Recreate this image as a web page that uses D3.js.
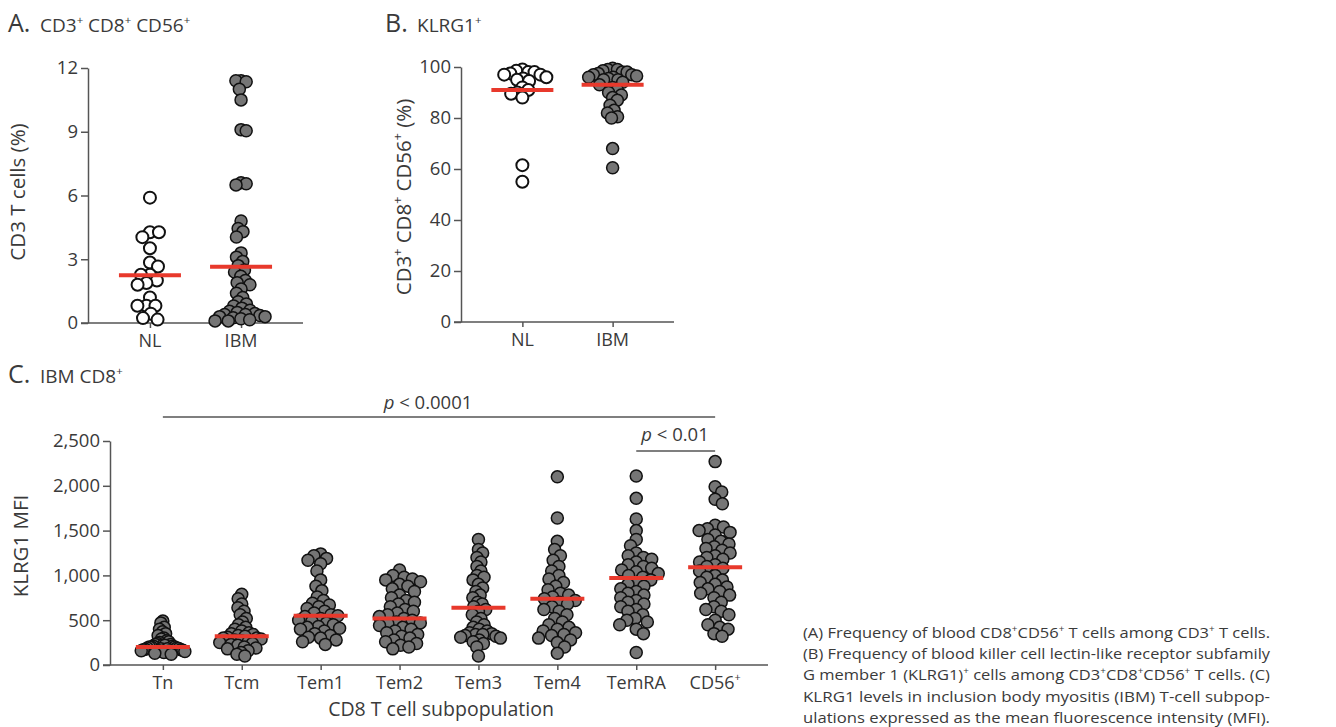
<!DOCTYPE html>
<html>
<head>
<meta charset="utf-8">
<script src="https://cdn.jsdelivr.net/npm/d3@7"></script>
<style>
  body { margin: 0; background: #fff; }
  svg { font-family: "Open Sans", sans-serif; }
</style>
</head>
<body>
<div class="vizHolder"></div>
<script>
var width = 1336,
    height = 727;

// panel A: CD3+ CD8+ CD56+ as % of CD3 T cells
var groupsAB = ['NL', 'IBM'];
var aNL = [5.9, 4.27, 4.27, 4.04, 3.52, 2.85, 2.66, 2.27, 2.27, 2.0, 1.88, 1.8, 1.2, 0.81, 0.81, 0.81, 0.44, 0.23, 0.16];
var aIBM = [11.4, 11.4, 11.35, 11.0, 10.5, 9.1, 9.05, 6.6, 6.55, 6.5, 4.8, 4.45, 4.3, 4.05, 3.3, 3.1, 2.9, 2.7,
            2.5, 2.4, 2.2, 2.0, 1.9, 1.8, 1.6, 1.4, 1.2, 1.0, 0.9, 0.8, 0.7, 0.6, 0.55, 0.5, 0.45, 0.4, 0.4,
            0.35, 0.3, 0.3, 0.25, 0.2, 0.15, 0.1, 0.1];
var aCenter = [2.25, 2.65];
var aTicks = [0, 3, 6, 9, 12];

// panel B: KLRG1+ %
var bNL = [99, 98.5, 98, 98, 97.5, 97, 97, 96, 95.5, 95, 94.5, 92, 91, 90, 89.5, 88, 61.5, 55];
var bIBM = [99.5, 99, 99, 98.5, 98, 98, 97.5, 97, 97, 96.5, 96, 96, 95.5, 95, 95, 94, 93, 92, 91, 90,
            89, 88, 87, 85, 83, 82, 80.5, 80, 68, 60.5];
var bCenter = [91, 93];
var bTicks = [0, 20, 40, 60, 80, 100];

// panel C: KLRG1 MFI by subpopulation
var subpops = ['Tn', 'Tcm', 'Tem1', 'Tem2', 'Tem3', 'Tem4', 'TemRA', 'CD56\u207A'];
var cTn = [490, 470, 420, 400, 370, 350, 330, 300, 290, 270, 260, 250, 240, 230, 230, 220, 220, 210, 210,
           200, 200, 200, 190, 190, 185, 180, 180, 175, 170, 170, 165, 160, 160, 155, 150, 150, 140, 130, 120];
var cTcm = [790, 740, 680, 640, 600, 560, 520, 480, 450, 420, 400, 380, 360, 350, 340, 330, 320, 310, 300,
            300, 290, 280, 270, 260, 250, 240, 230, 220, 200, 190, 180, 160, 140, 120, 100];
var cTem1 = [1240, 1220, 1190, 1170, 1130, 1050, 950, 880, 830, 760, 720, 690, 670, 650, 630, 600, 580, 560,
             550, 540, 520, 500, 490, 470, 450, 430, 420, 410, 400, 380, 350, 330, 310, 300, 280, 260, 230];
var cTem2 = [1060, 1000, 980, 960, 950, 930, 900, 880, 850, 820, 780, 750, 720, 700, 680, 650, 620, 600, 580,
             560, 540, 520, 500, 480, 470, 460, 440, 420, 400, 380, 360, 340, 320, 300, 280, 260, 240, 220, 200, 180];
var cTem3 = [1400, 1290, 1250, 1200, 1150, 1100, 1050, 1000, 980, 950, 900, 860, 820, 780, 750, 700, 680, 650,
             620, 600, 560, 520, 480, 450, 420, 400, 380, 360, 350, 340, 340, 330, 320, 310, 300, 280, 260, 240, 200, 100];
var cTem4 = [2100, 1640, 1380, 1290, 1220, 1170, 1100, 1050, 1000, 960, 920, 880, 840, 800, 780, 760, 740, 720,
             700, 680, 650, 620, 600, 560, 520, 480, 450, 420, 400, 380, 360, 340, 330, 300, 280, 250, 200, 130];
var cTemRA = [2110, 1860, 1630, 1500, 1400, 1330, 1250, 1220, 1200, 1180, 1150, 1120, 1100, 1080, 1060, 1040,
              1020, 1000, 980, 950, 920, 900, 880, 850, 820, 800, 780, 750, 720, 700, 680, 650, 620, 600, 560,
              520, 500, 480, 450, 400, 350, 140];
var cCD56 = [2270, 1990, 1930, 1850, 1800, 1560, 1540, 1520, 1500, 1480, 1450, 1400, 1380, 1350, 1320, 1300,
             1280, 1250, 1220, 1200, 1180, 1150, 1120, 1100, 1080, 1050, 1000, 980, 950, 920, 900, 870, 850, 820,
             800, 780, 750, 700, 650, 620, 600, 560, 500, 450, 420, 400, 350, 320];
var cCenter = [200, 320, 550, 520, 640, 740, 970, 1090];
var cTicks = [0, 500, 1000, 1500, 2000, 2500];

var caption = [
  '(A) Frequency of blood CD8\u207ACD56\u207A T cells among CD3\u207A T cells.',
  '(B) Frequency of blood killer cell lectin-like receptor subfamily',
  'G member 1 (KLRG1)\u207A cells among CD3\u207ACD8\u207ACD56\u207A T cells. (C)',
  'KLRG1 levels in inclusion body myositis (IBM) T-cell subpop-',
  'ulations expressed as the mean fluorescence intensity (MFI).'
];

var textCol = '#3a3a3a',
    axisCol = '#555',
    redCol = '#e8392c',
    grayFill = '#757575';

var svg = d3.select('.vizHolder')
            .append('svg')
            .attr('width', width)
            .attr('height', height);

// writes a string into a text element, turning the superscript plus into a raised small "+"
function richText(sel, str, fs) {
  var parts = str.split('\u207A');
  var raise = fs * 0.42;
  parts.forEach(function(p, i) {
    if (p.length) {
      sel.append('tspan').attr('dy', i > 0 ? raise : null).text(p);
    }
    if (i < parts.length - 1) {
      sel.append('tspan').attr('dy', -raise).attr('font-size', fs * 0.6).text('+');
    }
  });
}

// simple beeswarm: place each point as close to the centre as it can go,
// then squeeze the whole group if it is wider than maxW
function swarm(vals, y, d, maxW) {
  var placed = [];
  vals.slice().sort(function(a, b) { return b - a; }).forEach(function(v, i) {
    var py = y(v);
    var near = placed.filter(function(p) { return Math.abs(p.y - py) < d; });
    var cands = [0];
    near.forEach(function(p) {
      var w = Math.sqrt(d * d - (p.y - py) * (p.y - py));
      cands.push(p.dx - w - 0.01, p.dx + w + 0.01);
    });
    cands = cands.filter(function(c) {
      return near.every(function(p) {
        return (p.dx - c) * (p.dx - c) + (p.y - py) * (p.y - py) >= d * d - 0.1;
      });
    });
    cands.sort(function(a, b) {
      return (Math.abs(a) - Math.abs(b)) || (i % 2 ? a - b : b - a);
    });
    placed.push({v: v, y: py, dx: cands[0]});
  });
  var widest = d3.max(placed, function(p) { return Math.abs(p.dx); });
  if (widest > maxW) {
    placed.forEach(function(p) { p.dx = p.dx * maxW / widest; });
  }
  return placed;
}

function drawTitle(x, y, letter, label) {
  svg.append('text')
     .attr('x', x).attr('y', y)
     .attr('fill', textCol)
     .attr('font-size', 25)
     .text(letter);
  var t = svg.append('text')
             .attr('x', x + 32).attr('y', y)
             .attr('fill', textCol)
             .attr('font-size', 19);
  richText(t, label, 19);
}

// draws one dot panel
function drawPanel(opt) {
  var g = svg.append('g');
  var x = d3.scalePoint()
            .domain(opt.cats)
            .range([opt.left, opt.right])
            .padding(opt.pad);
  var y = d3.scaleLinear()
            .domain(opt.domain)
            .range([opt.bottom, opt.top]);

  // y axis
  var yAxis = d3.axisLeft(y)
                .tickValues(opt.ticks)
                .tickSize(7)
                .tickSizeOuter(0)
                .tickFormat(opt.fmt || d3.format('d'));
  var yg = g.append('g')
            .attr('transform', 'translate(' + opt.left + ',0)')
            .call(yAxis);
  yg.selectAll('path, line').attr('stroke', axisCol).attr('stroke-width', 1.5);
  yg.selectAll('text').attr('fill', textCol).attr('font-size', 18.5)
    .attr('font-family', '"Open Sans", sans-serif').attr('x', -10);

  // x axis
  g.append('line')
   .attr('x1', opt.left - 7).attr('x2', opt.right)
   .attr('y1', opt.bottom).attr('y2', opt.bottom)
   .attr('stroke', axisCol).attr('stroke-width', 1.5);
  var xAxis = d3.axisBottom(x).tickSize(5).tickSizeOuter(0);
  var xg = g.append('g')
            .attr('transform', 'translate(0,' + opt.bottom + ')')
            .call(xAxis);
  xg.select('.domain').remove();
  xg.selectAll('text').remove();
  xg.selectAll('line').attr('stroke', axisCol).attr('stroke-width', 1.5);
  opt.cats.forEach(function(c) {
    var t = g.append('text')
             .attr('x', x(c))
             .attr('y', opt.bottom + 24)
             .attr('text-anchor', 'middle')
             .attr('fill', textCol)
             .attr('font-size', 18);
    richText(t, c, 18);
  });

  // y title
  var yt = g.append('text')
            .attr('transform', 'translate(' + opt.ytX + ',' + opt.ytY + ') rotate(-90)')
            .attr('text-anchor', 'middle')
            .attr('fill', textCol)
            .attr('font-size', 20.5);
  richText(yt, opt.yTitle, 20.5);

  // dots
  opt.series.forEach(function(vals, i) {
    var pts = swarm(vals, y, opt.gap, opt.maxW);
    g.append('g')
     .selectAll('circle')
     .data(pts)
     .enter()
     .append('circle')
     .attr('cx', function(d) { return x(opt.cats[i]) + d.dx; })
     .attr('cy', function(d) { return d.y; })
     .attr('r', opt.r)
     .attr('fill', opt.fills[i])
     .attr('stroke', '#111')
     .attr('stroke-width', opt.fills[i] === '#fff' ? 2 : 1.5);
  });

  // centre lines
  g.append('g')
   .selectAll('line')
   .data(opt.centers)
   .enter()
   .append('line')
   .attr('x1', function(d, i) { return x(opt.cats[i]) - opt.half; })
   .attr('x2', function(d, i) { return x(opt.cats[i]) + opt.half; })
   .attr('y1', function(d) { return y(d); })
   .attr('y2', function(d) { return y(d); })
   .attr('stroke', redCol)
   .attr('stroke-width', 4);

  return {x: x, y: y, g: g};
}

drawTitle(8, 32, 'A.', 'CD3\u207A CD8\u207A CD56\u207A');
drawTitle(385, 32, 'B.', 'KLRG1\u207A');
drawTitle(8, 383, 'C.', 'IBM CD8\u207A');

drawPanel({
  cats: groupsAB, series: [aNL, aIBM], centers: aCenter, fills: ['#fff', grayFill],
  left: 88, right: 303, top: 68, bottom: 323, pad: 0.68,
  domain: [0, 12], ticks: aTicks, yTitle: 'CD3 T cells (%)', ytX: 25, ytY: 192,
  r: 6, gap: 9, maxW: 26, half: 31
});

drawPanel({
  cats: groupsAB, series: [bNL, bIBM], centers: bCenter, fills: ['#fff', grayFill],
  left: 461, right: 674, top: 67, bottom: 322, pad: 0.68,
  domain: [0, 100], ticks: bTicks, yTitle: 'CD3\u207A CD8\u207A CD56\u207A (%)', ytX: 411, ytY: 197,
  r: 6, gap: 9, maxW: 24, half: 31
});

var pc = drawPanel({
  cats: subpops, series: [cTn, cTcm, cTem1, cTem2, cTem3, cTem4, cTemRA, cCD56], centers: cCenter,
  fills: subpops.map(function() { return grayFill; }),
  left: 110, right: 768, top: 441, bottom: 665, pad: 0.67,
  domain: [0, 2500], ticks: cTicks, fmt: d3.format(','), yTitle: 'KLRG1 MFI', ytX: 28, ytY: 546,
  r: 6, gap: 8.5, maxW: 22, half: 27
});

// x title for panel C
svg.append('text')
   .attr('x', 441).attr('y', 716)
   .attr('text-anchor', 'middle')
   .attr('fill', textCol)
   .attr('font-size', 19.5)
   .text('CD8 T cell subpopulation');

// significance brackets
var brackets = [
  {from: 'Tn', to: subpops[7], y: 417, ty: 409, label: '0.0001', mid: 428},
  {from: 'TemRA', to: subpops[7], y: 451, ty: 441, label: '0.01', mid: 675}
];
brackets.forEach(function(b) {
  svg.append('line')
     .attr('x1', pc.x(b.from)).attr('x2', pc.x(b.to))
     .attr('y1', b.y).attr('y2', b.y)
     .attr('stroke', axisCol).attr('stroke-width', 1.5);
  var t = svg.append('text')
             .attr('x', b.mid).attr('y', b.ty)
             .attr('text-anchor', 'middle')
             .attr('fill', textCol)
             .attr('font-size', 18.5);
  t.append('tspan').attr('font-style', 'italic').text('p');
  t.append('tspan').text(' < ' + b.label);
});

// caption
caption.forEach(function(line, i) {
  var t = svg.append('text')
             .attr('x', 803)
             .attr('y', 638 + i * 21.2)
             .attr('fill', textCol)
             .attr('font-size', 14.8)
             .attr('textLength', 467)
             .attr('lengthAdjust', 'spacingAndGlyphs');
  richText(t, line, 14.8);
});
</script>
</body>
</html>
